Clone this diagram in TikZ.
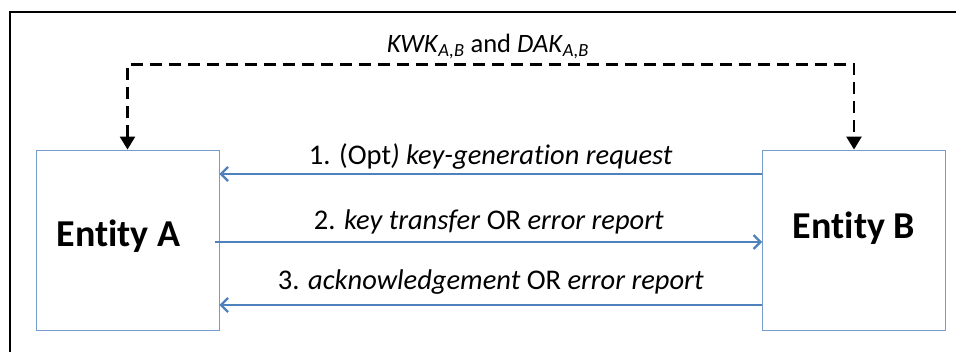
\documentclass[tikz,border=0pt]{standalone}
\usepackage{fontspec}
\setmainfont{Carlito}[Ligatures=NoCommon]
\usetikzlibrary{arrows.meta,positioning}
\definecolor{msgblue}{RGB}{79,129,189}
\definecolor{boxblue}{RGB}{120,155,205}
\tikzset{
  entity/.style={draw=boxblue, line width=0.9pt, minimum width=183pt, minimum height=180pt},
  entitytext/.style={font=\fontsize{38}{42}\selectfont\bfseries},
  msg/.style={draw=msgblue, line width=2.2pt, -{Straight Barb[length=7pt,width=14pt,line width=2.2pt]}},
  keyline/.style={line width=2.6pt, dash pattern=on 12pt off 7pt,
    {Triangle[length=13pt,width=15pt]}-{Triangle[length=13pt,width=15pt]}},
  msglabel/.style={font=\fontsize{28.5}{32}\selectfont, anchor=base}
}
\begin{document}
\begin{tikzpicture}[x=1pt,y=1pt]
\clip (0,0) rectangle (956,351);
%
% Cadre
\draw [line width=2.4pt] (10,-10) -- (10,339) -- (980,339);
%
% Entites
\node [entity] (A) at (127.5,111) {};
\node [entity] (B) at (854,111) {};
\node [entitytext] (Atext) at ([xshift=-9pt,yshift=4pt]A.center) {Entity A};
\node [entitytext] (Btext) at ([yshift=12pt]B.center) {Entity B};
%
% Cles partagees
\draw [keyline] (A.north) -- ++(0,85) -| (B.north);
\node [font=\fontsize{26.5}{30}\selectfont, anchor=base] (keys) at (488,298)
  {\textit{KWK}\textsubscript{\textit{A,B}} and \textit{DAK}\textsubscript{\textit{A,B}}};
%
% Messages
\draw [msg] ([yshift=66pt]B.west) -- ([yshift=66pt]A.east)
  node (m1) [msglabel, midway, yshift=9pt] {1. (Opt\textit{) key-generation request}};
\draw [msg] ([xshift=-4pt,yshift=-2pt]A.east) -- ([yshift=-2pt]B.west)
  node (m2) [msglabel, midway, yshift=12pt] {2. \textit{key transfer} OR \textit{error report}};
\draw [msg] ([yshift=-65pt]B.west) -- ([yshift=-65pt]A.east)
  node (m3) [msglabel, midway, yshift=15pt] {3. \textit{acknowledgement} OR \textit{error report}};
%
\end{tikzpicture}
\end{document}
